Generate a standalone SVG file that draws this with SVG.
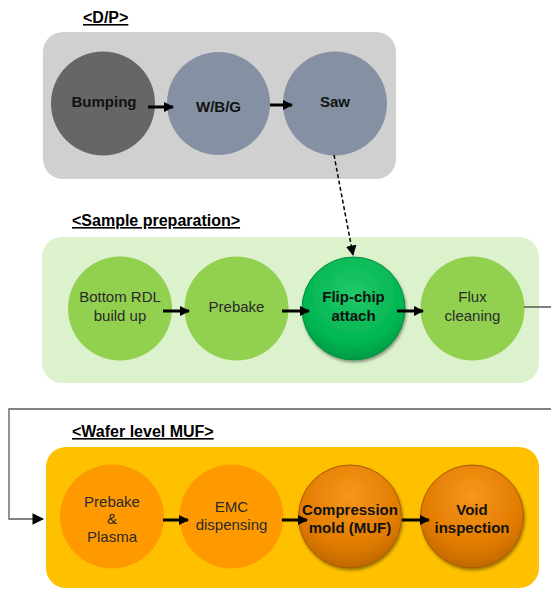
<svg xmlns="http://www.w3.org/2000/svg" width="551" height="590" viewBox="0 0 551 590">
<style>
  text { font-family: "Liberation Sans", Arial, sans-serif; text-anchor: middle; fill: #1a1a1a; }
  .title { font-size: 16px; font-weight: bold; text-anchor: start; text-decoration: underline; fill: #000; }
  .b { font-size: 15px; font-weight: bold; fill: #111; }
  .r { font-size: 15px; fill: #2a2a2a; }
  .arrow { stroke: #000; stroke-width: 3; fill: none; marker-end: url(#ah); }
</style>
<defs>
  <marker id="ah" viewBox="0 0 10 10" refX="9" refY="5" markerWidth="3.4" markerHeight="3.4" orient="auto" markerUnits="strokeWidth">
    <path d="M0,0 L10,5 L0,10 z" fill="#000"/>
  </marker>
  <marker id="ahd" viewBox="0 0 10 10" refX="9" refY="5" markerWidth="7" markerHeight="7" orient="auto" markerUnits="strokeWidth">
    <path d="M0,0 L10,5 L0,10 z" fill="#000"/>
  </marker>
  <marker id="ahg" viewBox="0 0 10 10" refX="9" refY="5" markerWidth="9" markerHeight="9" orient="auto" markerUnits="strokeWidth">
    <path d="M0,0 L10,5 L0,10 z" fill="#000"/>
  </marker>
  <radialGradient id="gGreen" cx="50%" cy="35%" r="65%">
    <stop offset="0" stop-color="#22c868"/>
    <stop offset="0.75" stop-color="#00b652"/>
    <stop offset="1" stop-color="#009a44"/>
  </radialGradient>
  <radialGradient id="gOrange" cx="50%" cy="30%" r="70%">
    <stop offset="0" stop-color="#f7961a"/>
    <stop offset="0.7" stop-color="#e17b00"/>
    <stop offset="1" stop-color="#c06800"/>
  </radialGradient>
  <filter id="sh" x="-20%" y="-20%" width="140%" height="140%">
    <feDropShadow dx="1" dy="2" stdDeviation="1.8" flood-color="#000" flood-opacity="0.4"/>
  </filter>
</defs>

<!-- Panels -->
<g id="panel-dp">
  <rect x="43" y="32" width="353" height="147" rx="20" fill="#d0d0d0"/>
  <text class="title" x="83" y="23">&lt;D/P&gt;</text>
</g>
<g id="panel-sample">
  <rect x="42" y="237" width="497" height="146" rx="20" fill="#dcf2cd"/>
  <text class="title" x="72" y="226">&lt;Sample preparation&gt;</text>
</g>
<g id="panel-muf">
  <rect x="46" y="447" width="493" height="141" rx="20" fill="#ffc000"/>
  <text class="title" x="72" y="437">&lt;Wafer level MUF&gt;</text>
</g>

<!-- D/P nodes -->
<g id="n-bumping">
  <circle cx="103" cy="103.5" r="52" fill="#666666"/>
  <text class="b" x="104" y="107">Bumping</text>
</g>
<g id="n-wbg">
  <circle cx="218.5" cy="103.5" r="51.5" fill="#8591a2"/>
  <text class="b" x="218.5" y="112">W/B/G</text>
</g>
<g id="n-saw">
  <circle cx="335" cy="103.5" r="52" fill="#8591a2"/>
  <text class="b" x="335" y="107">Saw</text>
</g>

<!-- Sample preparation nodes -->
<g id="n-rdl">
  <circle cx="120" cy="308.5" r="52" fill="#92d050"/>
  <text class="r" x="120" y="302">Bottom RDL</text>
  <text class="r" x="120" y="321">build up</text>
</g>
<g id="n-prebake1">
  <circle cx="236.5" cy="308.5" r="52" fill="#92d050"/>
  <text class="r" x="236.5" y="312">Prebake</text>
</g>
<g id="n-flipchip">
  <circle cx="353.5" cy="308.5" r="51.5" fill="url(#gGreen)" stroke="#00903e" stroke-width="1" filter="url(#sh)"/>
  <text class="b" x="353.5" y="302">Flip-chip</text>
  <text class="b" x="353.5" y="321">attach</text>
</g>
<g id="n-flux">
  <circle cx="472.5" cy="308.5" r="52" fill="#92d050"/>
  <text class="r" x="472.5" y="302">Flux</text>
  <text class="r" x="472.5" y="321">cleaning</text>
</g>

<!-- Wafer level MUF nodes -->
<g id="n-prebake2">
  <circle cx="112" cy="516.5" r="52" fill="#ff9900"/>
  <text class="r" x="112" y="506.5">Prebake</text>
  <text class="r" x="112" y="524.2">&amp;</text>
  <text class="r" x="112" y="541.9">Plasma</text>
</g>
<g id="n-emc">
  <circle cx="231.5" cy="516.5" r="52" fill="#ff9900"/>
  <text class="r" x="231.5" y="512">EMC</text>
  <text class="r" x="231.5" y="530">dispensing</text>
</g>
<g id="n-compression">
  <circle cx="350" cy="516.5" r="51.5" fill="url(#gOrange)" stroke="#a65a00" stroke-width="1" filter="url(#sh)"/>
  <text class="b" x="350" y="515">Compression</text>
  <text class="b" x="350" y="533">mold (MUF)</text>
</g>
<g id="n-void">
  <circle cx="472" cy="516.5" r="51.5" fill="url(#gOrange)" stroke="#a65a00" stroke-width="1" filter="url(#sh)"/>
  <text class="b" x="472" y="515">Void</text>
  <text class="b" x="472" y="533">inspection</text>
</g>

<!-- Connectors -->
<g id="connectors">
  <line class="arrow" x1="148" y1="107" x2="173" y2="107"/>
  <line class="arrow" x1="270" y1="105" x2="292" y2="105"/>
  <line x1="334" y1="155" x2="353" y2="255" stroke="#000" stroke-width="1.5" stroke-dasharray="4 2.5" marker-end="url(#ahd)"/>
  <line class="arrow" x1="163" y1="311" x2="189" y2="311"/>
  <line class="arrow" x1="282" y1="311" x2="309" y2="311"/>
  <line class="arrow" x1="397" y1="311" x2="423" y2="311"/>
  <path d="M524,307 H570 V409 H9 V519 H43" fill="none" stroke="#595959" stroke-width="1.3" marker-end="url(#ahg)"/>
  <line class="arrow" x1="163" y1="520" x2="188" y2="520"/>
  <line class="arrow" x1="282" y1="520" x2="307" y2="520"/>
  <line class="arrow" x1="402" y1="520" x2="429" y2="520"/>
</g>
</svg>
